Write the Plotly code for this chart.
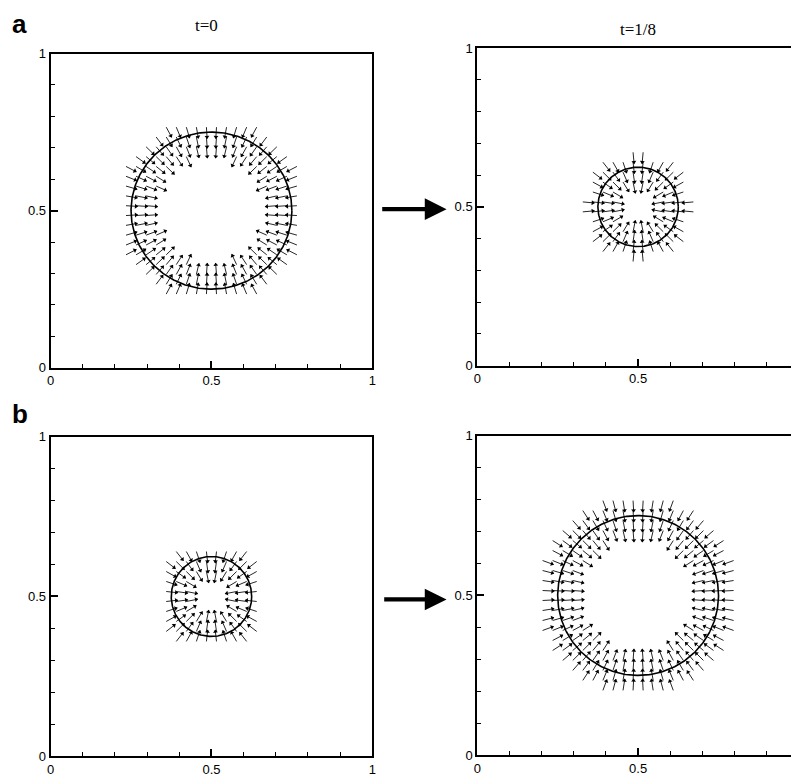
import numpy as np
import plotly.graph_objects as go

# ---- data ----
panel_titles = ["t=0", "t=1/8", "", ""]
row_labels = ["a", "b"]
radii = [0.25, 0.125, 0.125, 0.25]          # interface radius per panel
center = (0.5, 0.5)
grid_n = 32                                   # vector grid resolution
band_inner = [0.05, 0.05, 0.05, 0.05]         # vectors shown for r >= R - inner (- diag)
band_inner_diag = [0.015, 0.0, 0.0, 0.01]
band_outer = [0.02, 0.05, 0.02, 0.05]         # ... and r <= R + outer (+ diag)
band_outer_diag = [0.04, 0.006, 0.035, 0.03]
arrow_len = 0.036
direction = [-1, -1, -1, -1]                  # -1 = pointing toward centre
x_ticks = [0, 0.5, 1]
y_ticks = [0, 0.5, 1]

OFF = 8                      # page body margin of the html page
W, H = 799 - OFF, 780 - OFF
# panel pixel boxes in the reference image (left, right, top, bottom)
boxes = [(47, 372, 47.3, 367.7), (478, 803, 41.7, 365.7),
         (47, 372, 438, 764), (478, 803, 437, 763)]

fig = go.Figure()

def px(x):
    return (x - OFF) / W

def py(y):
    return 1 - (y - OFF) / H

for i, R in enumerate(radii):
    ax = "" if i == 0 else str(i + 1)
    xs = (np.arange(grid_n) + 0.5) / grid_n
    sx, sy, hx, hy, ang = [], [], [], [], []
    for gx in xs:
        for gy in xs:
            dx, dy = gx - center[0], gy - center[1]
            r = np.hypot(dx, dy)
            if r == 0:
                continue
            s = abs(np.sin(2 * np.arctan2(dy, dx)))
            lo = R - band_inner[i] - band_inner_diag[i] * s
            hi = R + band_outer[i] + band_outer_diag[i] * s
            if lo <= r <= hi:
                ux, uy = direction[i] * dx / r, direction[i] * dy / r
                ex, ey = gx + arrow_len * ux, gy + arrow_len * uy
                sx += [gx, ex, None]
                sy += [gy, ey, None]
                hx.append(gx + (arrow_len - 0.005) * ux)
                hy.append(gy + (arrow_len - 0.005) * uy)
                ang.append(float(np.degrees(np.arctan2(ux, uy))))
    fig.add_trace(go.Scatter(x=sx, y=sy, mode="lines", xaxis="x" + ax, yaxis="y" + ax,
                             line=dict(color="black", width=0.85), hoverinfo="skip",
                             showlegend=False))
    fig.add_trace(go.Scatter(x=hx, y=hy, mode="markers", xaxis="x" + ax, yaxis="y" + ax,
                             marker=dict(symbol="triangle-up", size=4.2, angle=ang,
                                         color="black", line=dict(width=0)),
                             hoverinfo="skip", showlegend=False))
    th = np.linspace(0, 2 * np.pi, 361)
    fig.add_trace(go.Scatter(x=center[0] + R * np.cos(th), y=center[1] + R * np.sin(th),
                             mode="lines", xaxis="x" + ax, yaxis="y" + ax,
                             line=dict(color="black", width=1.6), hoverinfo="skip",
                             showlegend=False))

    l, rr, t, b = boxes[i]
    right_px = min(rr, 799)
    xmax = (right_px - l) / (rr - l)
    axis_common = dict(showgrid=False, zeroline=False, showline=True, linecolor="black",
                       linewidth=2, ticks="inside", ticklen=7, tickwidth=1.5,
                       tickcolor="black",
                       minor=dict(ticks="inside", ticklen=4, tickwidth=1, dtick=0.1,
                                  tickcolor="black"),
                       tickfont=dict(family="Liberation Sans, Arial", size=13, color="black"))
    fig.layout["xaxis" + ax] = dict(axis_common, domain=[px(l), min(px(right_px), 1)],
                                    range=[0, xmax], tickvals=x_ticks,
                                    ticktext=[str(v) for v in x_ticks],
                                    anchor="y" + ax, mirror=True)
    fig.layout["yaxis" + ax] = dict(axis_common, domain=[py(b), py(t)], range=[0, 1],
                                    tickvals=y_ticks, ticktext=[str(v) for v in y_ticks],
                                    anchor="x" + ax, mirror=(rr <= 799))

annotations = []
title_pos = [(204, 19), (640, 23)]
for k, (tx, ty) in enumerate(title_pos):
    annotations.append(dict(text=panel_titles[k], x=px(tx), y=py(ty), xref="paper",
                            yref="paper", showarrow=False, xanchor="center",
                            yanchor="middle",
                            font=dict(family="Liberation Serif, Times New Roman", size=17,
                                      color="black")))
for k, (tx, ty) in enumerate([(16, 17), (16, 415)]):
    annotations.append(dict(text="<b>%s</b>" % row_labels[k], x=px(tx), y=py(ty),
                            xref="paper", yref="paper", showarrow=False,
                            xanchor="center", yanchor="middle",
                            font=dict(family="Liberation Sans, Arial", size=26,
                                      color="black")))

shapes = []
for (x0, x1, yc) in [(382, 447, 206), (384, 447, 604)]:
    xh = x1 - 22
    pts = [(x0, yc - 2.2), (xh, yc - 2.2), (xh, yc - 11), (x1, yc), (xh, yc + 11),
           (xh, yc + 2.2), (x0, yc + 2.2)]
    path = "M " + " L ".join("%f,%f" % (px(a), py(c)) for a, c in pts) + " Z"
    shapes.append(dict(type="path", path=path, xref="paper", yref="paper",
                       fillcolor="black", line=dict(width=0)))

fig.update_layout(width=W, height=H, margin=dict(l=0, r=0, t=0, b=0),
                  plot_bgcolor="white", paper_bgcolor="white",
                  annotations=annotations, shapes=shapes)

fig.write_html("out.html")
